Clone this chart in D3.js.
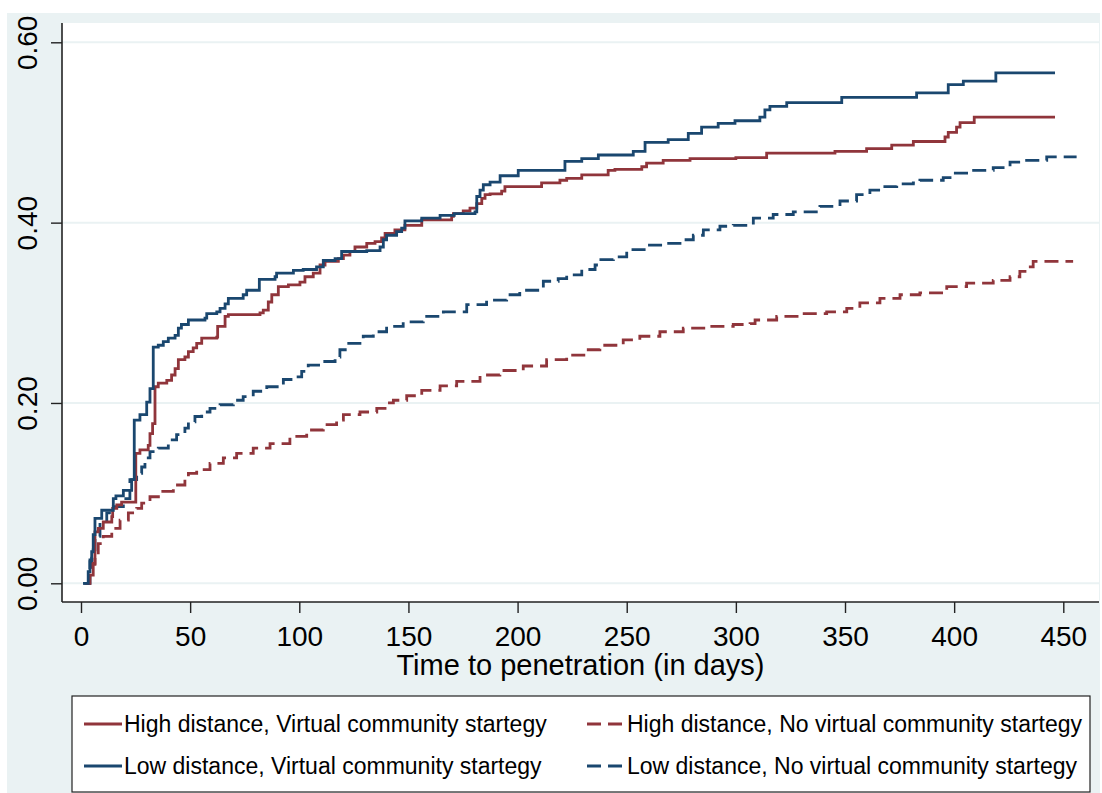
<!DOCTYPE html>
<html>
<head>
<meta charset="utf-8">
<script src="https://cdn.jsdelivr.net/npm/d3@7"></script>
<style>
    body { margin: 0; background: #fff; }
    text { font-family: "Liberation Sans", Arial, sans-serif; fill: #000; }
</style>
</head>
<body>
<svg id="chart" width="1102" height="793"></svg>
<script>
// cumulative share penetrated as [day, value] steps
const highVirtual = [[2,0],[4.1,0.009],[5.6,0.022],[6.4,0.057],[7.9,0.061],[10.2,0.068],[14.1,0.074],[14.5,0.083],
    [16.4,0.087],[18.6,0.090],[25.1,0.144],[27,0.148],[30.8,0.153],[31.6,0.166],[32.8,0.177],[33.9,0.218],[35.4,0.222],
    [39.3,0.225],[41.5,0.231],[43.1,0.238],[44.6,0.248],[47.6,0.251],[49.2,0.257],[51.4,0.261],[53,0.266],[55.3,0.272],
    [62.2,0.273],[62.6,0.285],[66,0.296],[67.5,0.298],[82,0.300],[83.5,0.303],[85.8,0.312],[87.4,0.320],[90.4,0.329],
    [95,0.331],[100.3,0.334],[102.6,0.340],[106.4,0.344],[109.5,0.353],[111.8,0.357],[117.9,0.360],[120.2,0.364],
    [123.2,0.368],[125.5,0.373],[130.9,0.377],[134.7,0.379],[137.7,0.383],[139.3,0.388],[143.8,0.392],[148.4,0.397],
    [156.1,0.403],[169.8,0.407],[170.6,0.410],[175.1,0.413],[178.2,0.416],[181.3,0.421],[183.6,0.427],[185.1,0.431],
    [187.4,0.432],[192.7,0.435],[194.2,0.440],[211,0.444],[219.4,0.447],[222.5,0.449],[229.4,0.453],[241.5,0.458],
    [244.6,0.459],[256.9,0.462],[259.1,0.466],[266.7,0.469],[279,0.471],[300,0.472],[314.1,0.477],[345.4,0.479],
    [359.9,0.482],[371.4,0.486],[381.3,0.490],[395.8,0.495],[397.3,0.500],[401.1,0.506],[402.7,0.511],[409.2,0.517],
    [446.2,0.517]];

const lowVirtual = [[1,0],[3.3,0.013],[4.1,0.026],[4.9,0.035],[5.6,0.054],[6.4,0.072],[9.5,0.081],[14.8,0.094],
    [16,0.097],[19.4,0.103],[23.2,0.115],[24.4,0.181],[27,0.187],[30.1,0.201],[31.6,0.216],[33.1,0.262],[35.4,0.264],
    [37.7,0.268],[40,0.272],[43.1,0.275],[44.6,0.283],[46,0.287],[49.2,0.292],[56.8,0.294],[57.6,0.299],[62.2,0.301],
    [63.7,0.305],[66,0.310],[67.5,0.316],[74.3,0.320],[75.9,0.325],[81.7,0.337],[88.9,0.340],[89.6,0.344],[97.3,0.347],
    [101.8,0.348],[107.9,0.351],[111,0.358],[116.4,0.360],[119.4,0.368],[130.9,0.369],[137,0.373],[138.5,0.381],
    [140,0.386],[144.6,0.390],[146.9,0.394],[148.4,0.402],[156.1,0.405],[164.5,0.408],[171,0.410],[180.5,0.412],
    [181.3,0.429],[182.8,0.436],[184.3,0.442],[187.4,0.445],[192,0.452],[200.3,0.458],[221.7,0.468],[229.4,0.471],
    [237,0.475],[253,0.479],[258.4,0.489],[269,0.492],[278.2,0.499],[284.3,0.506],[291.9,0.510],[299.6,0.513],
    [311,0.517],[313.3,0.525],[315.6,0.529],[323.3,0.533],[348.5,0.539],[382.8,0.544],[397.3,0.553],[404.2,0.557],
    [419.1,0.566],[446.2,0.566]];

const highNoVirtual = [[2,0],[4,0.015],[5,0.021],[6.4,0.030],[7.9,0.044],[10.2,0.052],[14.1,0.061],[17.9,0.070],
    [21.7,0.078],[25.5,0.083],[27.8,0.089],[31.6,0.096],[36.2,0.102],[42.3,0.109],[47.6,0.115],[49.2,0.122],
    [53,0.126],[59.1,0.133],[65.2,0.139],[71.3,0.144],[78.9,0.150],[86.6,0.155],[95.7,0.163],[103.4,0.170],
    [111,0.176],[117.1,0.181],[120.2,0.187],[127.8,0.190],[135.5,0.194],[140,0.200],[143.1,0.203],[149.2,0.208],
    [156.1,0.214],[164.5,0.219],[172.1,0.224],[182.8,0.231],[191.9,0.236],[202.6,0.241],[213.3,0.248],[222.5,0.253],
    [231.7,0.259],[237.7,0.264],[248.4,0.270],[256,0.274],[265.2,0.279],[275.9,0.283],[286.6,0.285],[298.8,0.287],
    [306.5,0.288],[308.8,0.292],[318.7,0.296],[329.4,0.299],[341.6,0.301],[350.8,0.305],[356.8,0.311],[366,0.316],
    [375.2,0.320],[384.3,0.322],[396.6,0.329],[405.7,0.333],[417.9,0.336],[425.6,0.340],[430.1,0.346],[433.2,0.351],
    [436.2,0.357],[454.5,0.357]];

const lowNoVirtual = [[1,0],[4.1,0.024],[4.9,0.037],[6.4,0.052],[8.7,0.067],[11.8,0.078],[14.8,0.085],[19.4,0.094],
    [22.4,0.115],[25.5,0.122],[27.8,0.129],[29.3,0.139],[31.6,0.146],[35.4,0.150],[40,0.159],[43.8,0.165],[47.6,0.172],
    [49.2,0.179],[52.2,0.185],[55.3,0.190],[59.1,0.194],[63.7,0.198],[69.8,0.203],[74.3,0.207],[78.9,0.213],
    [85.1,0.218],[92.7,0.226],[97.3,0.229],[101.1,0.235],[104.1,0.242],[109.5,0.246],[116.4,0.251],[118.6,0.259],
    [121.7,0.266],[129.3,0.274],[133.9,0.279],[140,0.285],[147.6,0.290],[156.8,0.296],[166,0.301],[176.7,0.309],
    [185.8,0.314],[195,0.320],[201,0.325],[211.8,0.335],[218.6,0.338],[222.5,0.342],[229.4,0.348],[235.5,0.353],
    [237,0.359],[243.9,0.362],[250,0.370],[259.1,0.375],[268.3,0.377],[274.4,0.381],[280.5,0.386],[285.1,0.392],
    [292.7,0.396],[298.8,0.397],[308,0.405],[317.1,0.409],[326.3,0.412],[338.5,0.418],[347.7,0.424],[355.3,0.431],
    [361.4,0.436],[367.5,0.440],[373.7,0.443],[381.3,0.444],[384.3,0.447],[395,0.450],[399.6,0.455],[405.7,0.458],
    [417.9,0.461],[425.6,0.467],[433.2,0.469],[442.4,0.473],[456.1,0.473]];

const dayTicks = [0, 50, 100, 150, 200, 250, 300, 350, 400, 450];
const shareTicks = [0, 0.2, 0.4, 0.6];
const legendLabels = [
    "High distance, Virtual community startegy",
    "High distance, No virtual community startegy",
    "Low distance, Virtual community startegy",
    "Low distance, No virtual community startegy"
];
const xTitle = "Time to penetration (in days)";

const navy = "#1a476f";
const maroon = "#90353b";
const paleBg = "#eaf2f3";

/** Class drawing the penetration curves. */
class PenetrationPlot {
    constructor(svgId) {
        this.svg = d3.select(svgId);
        this.plot = { left: 62, right: 1099, top: 23, bottom: 602 };
        this.x = d3.scaleLinear().domain([0, 450]).range([81, 1063.3]);
        this.y = d3.scaleLinear().domain([0, 0.6]).range([583.3, 42.3]);
    }

    drawFrame() {
        let p = this.plot;
        this.svg.append("rect").attr("x", 7).attr("y", 13).attr("width", 1093).attr("height", 780)
            .attr("fill", paleBg);
        this.svg.append("rect").attr("x", p.left).attr("y", p.top)
            .attr("width", p.right - p.left).attr("height", p.bottom - p.top).attr("fill", "#fff");

        // horizontal grid lines
        this.svg.selectAll("line.grid").data(shareTicks).enter().append("line")
            .attr("class", "grid")
            .attr("x1", p.left).attr("x2", p.right)
            .attr("y1", d => this.y(d)).attr("y2", d => this.y(d))
            .attr("stroke", paleBg).attr("stroke-width", 2);
    }

    drawAxes() {
        let p = this.plot;

        let yAxis = d3.axisLeft(this.y).tickValues(shareTicks).tickFormat(d3.format(".2f"))
            .tickSize(11).tickPadding(14);
        let yg = this.svg.append("g").attr("transform", "translate(" + p.left + ",0)").call(yAxis);
        yg.select(".domain").remove();
        yg.selectAll(".tick line").attr("stroke", "#222").attr("stroke-width", 1.4);
        yg.selectAll(".tick text")
            .attr("font-size", 28)
            .attr("x", 0).attr("dy", 0)
            .attr("text-anchor", "middle")
            .attr("transform", "translate(-25,0) rotate(-90)");

        let xAxis = d3.axisBottom(this.x).tickValues(dayTicks).tickFormat(d3.format("d"))
            .tickSize(11).tickPadding(10);
        let xg = this.svg.append("g").attr("transform", "translate(0," + p.bottom + ")").call(xAxis);
        xg.select(".domain").remove();
        xg.selectAll(".tick line").attr("stroke", "#222").attr("stroke-width", 1.4);
        xg.selectAll(".tick text").attr("font-size", 28).attr("y", 44).attr("dy", 0);

        // axis lines
        this.svg.append("line").attr("x1", p.left).attr("x2", p.left).attr("y1", p.top).attr("y2", p.bottom)
            .attr("stroke", "#222").attr("stroke-width", 1.6);
        this.svg.append("line").attr("x1", p.left).attr("x2", p.right).attr("y1", p.bottom).attr("y2", p.bottom)
            .attr("stroke", "#222").attr("stroke-width", 1.6);

        this.svg.append("text")
            .attr("x", (p.left + p.right) / 2).attr("y", 675)
            .attr("text-anchor", "middle").attr("font-size", 29)
            .text(xTitle);
    }

    drawCurves() {
        let line = d3.line()
            .x(d => this.x(d[0]))
            .y(d => this.y(d[1]))
            .curve(d3.curveStepAfter);

        let curves = [
            { data: highNoVirtual, color: maroon, dash: "14,7" },
            { data: lowNoVirtual, color: navy, dash: "14,7" },
            { data: highVirtual, color: maroon, dash: null },
            { data: lowVirtual, color: navy, dash: null }
        ];

        this.svg.selectAll("path.curve").data(curves).enter().append("path")
            .attr("class", "curve")
            .attr("d", d => line(d.data))
            .attr("fill", "none")
            .attr("stroke", d => d.color)
            .attr("stroke-width", 2.8)
            .attr("stroke-dasharray", d => d.dash);
    }

    drawLegend() {
        this.svg.append("rect").attr("x", 72).attr("y", 696).attr("width", 1018).attr("height", 96)
            .attr("fill", "#fff").attr("stroke", "#222").attr("stroke-width", 1.2);

        let keys = [
            { label: legendLabels[0], color: maroon, dash: null, col: 0, row: 0 },
            { label: legendLabels[1], color: maroon, dash: "14,7", col: 1, row: 0 },
            { label: legendLabels[2], color: navy, dash: null, col: 0, row: 1 },
            { label: legendLabels[3], color: navy, dash: "14,7", col: 1, row: 1 }
        ];
        let colX = [84, 587];
        let rowY = [724, 766];

        let item = this.svg.selectAll("g.key").data(keys).enter().append("g")
            .attr("class", "key")
            .attr("transform", d => "translate(" + colX[d.col] + "," + rowY[d.row] + ")");

        item.append("line").attr("x1", 0).attr("x2", 38).attr("y1", 0).attr("y2", 0)
            .attr("stroke", d => d.color).attr("stroke-width", 2.8)
            .attr("stroke-dasharray", d => d.dash);

        item.append("text").attr("x", 40).attr("y", 8).attr("font-size", 23)
            .text(d => d.label);
    }
}

let chart = new PenetrationPlot("#chart");
chart.drawFrame();
chart.drawCurves();
chart.drawAxes();
chart.drawLegend();
</script>
</body>
</html>
